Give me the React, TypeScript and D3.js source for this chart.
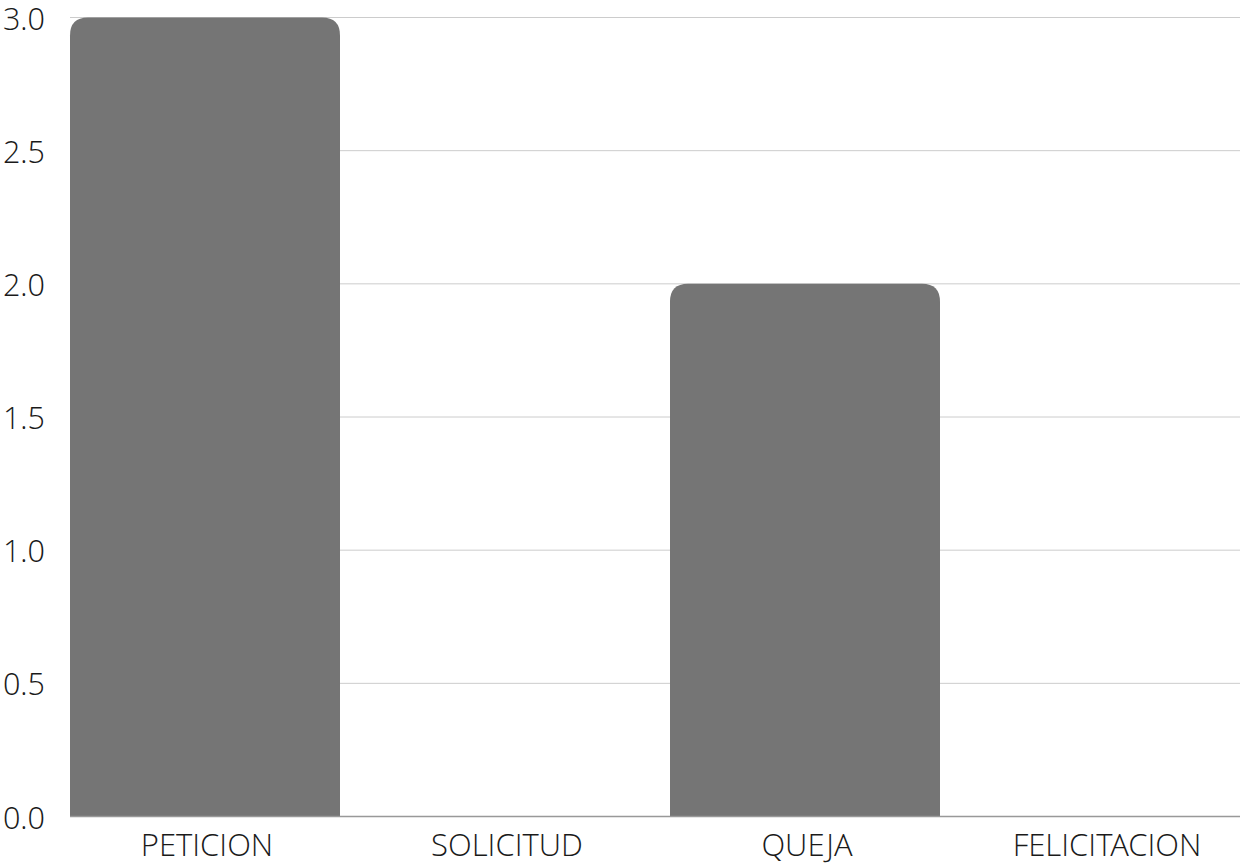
import React from "react";
import * as d3 from "d3";

const categories: string[] = ["PETICION", "SOLICITUD", "QUEJA", "FELICITACION"];
const values: number[] = [3, 0, 2, 0];
const yTicks: number[] = [0, 0.5, 1, 1.5, 2, 2.5, 3];

const W = 1242;
const H = 864;
const left = 70;
const right = 1240;
const top = 17.5;
const bottom = 816.5;
const R = 18;

function barPath(x0: number, x1: number, y0: number, y1: number, r: number) {
  const h = y1 - y0;
  if (h <= 0) return "";
  const rr = Math.min(r, h, (x1 - x0) / 2);
  return `M${x0},${y1}V${y0 + rr}Q${x0},${y0} ${x0 + rr},${y0}H${x1 - rr}Q${x1},${y0} ${x1},${y0 + rr}V${y1}Z`;
}

export default function App() {
  const x = d3.scaleBand<string>().domain(categories).range([left, right]).paddingInner(0.1).paddingOuter(0);
  const y = d3.scaleLinear().domain([0, 3]).range([bottom, top]);
  const font = "'Open Sans Light', 'Open Sans', sans-serif";
  return (
    <svg width={W} height={H} style={{ position: "absolute", left: 0, top: 0, background: "#fff" }}>
      {yTicks.map((t) => (
        <g key={t}>
          {t !== 0 && (
            <line x1={left} x2={right} y1={y(t)} y2={y(t)} stroke="#cccccc" strokeWidth={1} />
          )}
          <text
            x={45}
            y={y(t)}
            textAnchor="end"
            dominantBaseline="central"
            fontFamily={font}
            fontWeight={300}
            fontSize={30.5}
            fill="#1a1a1a"
          >
            {t.toFixed(1)}
          </text>
        </g>
      ))}
      {categories.map((c, i) => {
        const x0 = x(c)!;
        const x1 = x0 + x.bandwidth();
        return <path key={c} d={barPath(x0, x1, y(values[i]), y(0), R)} fill="#757575" />;
      })}
      <line x1={left} x2={right} y1={bottom} y2={bottom} stroke="#999999" strokeWidth={1.5} />
      {categories.map((c) => (
        <text
          key={c}
          x={x(c)! + x.bandwidth() / 2 + 2}
          y={856}
          textAnchor="middle"
          fontFamily={font}
          fontWeight={300}
          fontSize={31}
          fill="#1a1a1a"
        >
          {c}
        </text>
      ))}
    </svg>
  );
}
